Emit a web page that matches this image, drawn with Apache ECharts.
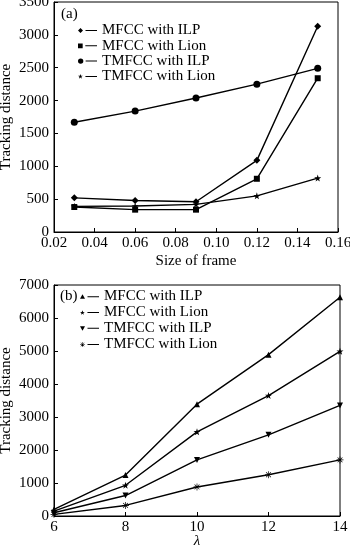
<!DOCTYPE html>
<html><head><meta charset="utf-8">
<script src="https://cdn.jsdelivr.net/npm/echarts@6/dist/echarts.min.js"></script>
<style>html,body{margin:0;padding:0;background:#fff}#c{width:350px;height:550px}</style>
</head><body><div id="c"></div>
<script>
// ---- data (a) ----
var frameSizes = [0.03, 0.06, 0.09, 0.12, 0.15];
var mfccIlpA   = [520, 480, 460, 1090, 3130];
var mfccLionA  = [380, 340, 340, 810, 2340];
var tmfccIlpA  = [1670, 1840, 2040, 2250, 2490];
var tmfccLionA = [390, 395, 420, 550, 820];
// ---- data (b) ----
var lambdas    = [6, 8, 10, 12, 14];
var mfccIlpB   = [200, 1240, 3390, 4890, 6630];
var mfccLionB  = [150, 930, 2550, 3650, 4990];
var tmfccIlpB  = [100, 620, 1700, 2460, 3350];
var tmfccLionB = [50, 320, 880, 1250, 1700];
var seriesNames = ['MFCC with ILP', 'MFCC with Lion', 'TMFCC with ILP', 'TMFCC with Lion'];

var FONT = 'Liberation Serif';
var STAR = 'path://M5,0L6.2,3.6L10,3.6L6.9,5.8L8.1,9.5L5,7.2L1.9,9.5L3.1,5.8L0,3.6L3.8,3.6Z';
var ASTER = 'path://M4.5,0L5.5,0L5.5,10L4.5,10Z M0,4.5L10,4.5L10,5.5L0,5.5Z M1.2,1.9L1.9,1.2L8.8,8.1L8.1,8.8Z M8.1,1.2L8.8,1.9L1.9,8.8L1.2,8.1Z';
var TRI_DOWN = 'path://M0,0L10,0L5,9Z';

function pairs(xs, ys){ return xs.map(function(x,i){ return [x, ys[i]]; }); }

var dash = ' M7.5,2.4L19,2.4L19,3.4L7.5,3.4Z';
var icons = {
  diamond: 'path://M0,2.9L2.5,0.4L5,2.9L2.5,5.4Z' + dash,
  square:  'path://M0.3,0.6L4.9,0.6L4.9,5.2L0.3,5.2Z' + dash,
  circle:  'path://M2.5,0.2A2.7,2.7 0 1 1 2.49,0.2Z' + dash,
  star:    'path://M2.5,0.6L3.1,2.3L4.9,2.3L3.4,3.3L4,5.2L2.5,4.1L1,5.2L1.6,3.3L0.1,2.3L1.9,2.3Z' + dash,
  triUp:   'path://M2.5,0.4L5,5L0,5Z' + dash,
  triDown: 'path://M0,0.8L5,0.8L2.5,5.4Z' + dash,
  aster:   'path://M2.25,0.4L2.75,0.4L2.75,5.4L2.25,5.4Z M0,2.65L5,2.65L5,3.15L0,3.15Z M0.6,1.1L0.9,0.8L4.4,4.7L4.1,5Z M4.1,0.8L4.4,1.1L0.9,5L0.6,4.7Z' + dash
};

function mkSeries(name, data, gi, symbol, size){
  return {
    name: name, type: 'line', xAxisIndex: gi, yAxisIndex: gi, data: data,
    symbol: symbol, symbolSize: size, showSymbol: true,
    lineStyle: {color: '#000', width: 1.4}, itemStyle: {color: '#000'},
    animation: false
  };
}

var axisCommon = {
  axisLine: {show: true, lineStyle: {color: '#000', width: 1}},
  axisTick: {show: true, inside: true, length: 4, lineStyle: {color: '#000'}},
  splitLine: {show: false},
  axisLabel: {color: '#000', fontFamily: FONT, fontSize: 15, margin: 5},
  nameTextStyle: {color: '#000', fontFamily: FONT, fontSize: 15},
  nameMoveOverlap: false
};
function ax(o){ var r = JSON.parse(JSON.stringify(axisCommon)); for (var k in o) r[k] = o[k]; return r; }
function plain(v){ return String(v); }

var xA = ax({gridIndex: 0, type: 'value', min: 0.02, max: 0.16, interval: 0.02,
  name: 'Size of frame', nameLocation: 'middle', nameGap: 22});
xA.axisLabel.formatter = function(v){ return v.toFixed(2); };
xA.axisLabel.margin = 4;
var yA = ax({gridIndex: 0, type: 'value', min: 0, max: 3500, interval: 500,
  name: 'Tracking distance', nameLocation: 'middle', nameGap: 40});
yA.axisLabel.formatter = plain;
var xB = ax({gridIndex: 1, type: 'value', min: 6, max: 14, interval: 2,
  name: 'λ', nameLocation: 'middle', nameGap: 18});
xB.axisLabel.margin = 4;
xB.axisLabel.formatter = plain;
xB.nameTextStyle.fontStyle = 'italic';
var yB = ax({gridIndex: 1, type: 'value', min: 0, max: 7000, interval: 1000,
  name: 'Tracking distance', nameLocation: 'middle', nameGap: 40});
yB.axisLabel.formatter = plain;

var legendText = {color: '#000', fontFamily: FONT, fontSize: 15, lineHeight: 15};

var option = {
  backgroundColor: '#fff',
  animation: false,
  title: [
    {text: '(a)', left: 56, top: 2, textStyle: {fontFamily: FONT, fontSize: 15, fontWeight: 'normal', color: '#000'}},
    {text: '(b)', left: 55, top: 284, textStyle: {fontFamily: FONT, fontSize: 15, fontWeight: 'normal', color: '#000'}}
  ],
  grid: [
    {left: 54, top: 2, right: 12, height: 230, show: true, borderColor: '#000', borderWidth: 1,
     backgroundColor: 'transparent', containLabel: false, outerBoundsMode: 'none'},
    {left: 54, top: 285, right: 10, height: 231, show: true, borderColor: '#000', borderWidth: 1,
     backgroundColor: 'transparent', containLabel: false, outerBoundsMode: 'none'}
  ],
  legend: [
    {orient: 'vertical', left: 73, top: 18, itemGap: 0.3, itemWidth: 19, itemHeight: 6,
     textStyle: legendText,
     data: [
      {name: seriesNames[0], icon: icons.diamond},
      {name: seriesNames[1], icon: icons.square},
      {name: seriesNames[2], icon: icons.circle},
      {name: seriesNames[3], icon: icons.star}
     ]},
    {orient: 'vertical', left: 75, top: 284, itemGap: 1, itemWidth: 19, itemHeight: 6,
     textStyle: legendText,
     data: [
      {name: seriesNames[0] + ' ', icon: icons.triUp},
      {name: seriesNames[1] + ' ', icon: icons.star},
      {name: seriesNames[2] + ' ', icon: icons.triDown},
      {name: seriesNames[3] + ' ', icon: icons.aster}
     ]}
  ],
  xAxis: [xA, xB],
  yAxis: [yA, yB],
  series: [
    mkSeries(seriesNames[0], pairs(frameSizes, mfccIlpA), 0, 'diamond', 7),
    mkSeries(seriesNames[1], pairs(frameSizes, mfccLionA), 0, 'rect', 6),
    mkSeries(seriesNames[2], pairs(frameSizes, tmfccIlpA), 0, 'circle', 7),
    mkSeries(seriesNames[3], pairs(frameSizes, tmfccLionA), 0, STAR, 7),
    mkSeries(seriesNames[0] + ' ', pairs(lambdas, mfccIlpB), 1, 'triangle', 6),
    mkSeries(seriesNames[1] + ' ', pairs(lambdas, mfccLionB), 1, STAR, 7),
    mkSeries(seriesNames[2] + ' ', pairs(lambdas, tmfccIlpB), 1, TRI_DOWN, 6),
    mkSeries(seriesNames[3] + ' ', pairs(lambdas, tmfccLionB), 1, ASTER, 7)
  ]
};
var chart = echarts.init(document.getElementById('c'), null, {renderer: 'canvas'});
chart.setOption(option);
</script>
</body></html>
